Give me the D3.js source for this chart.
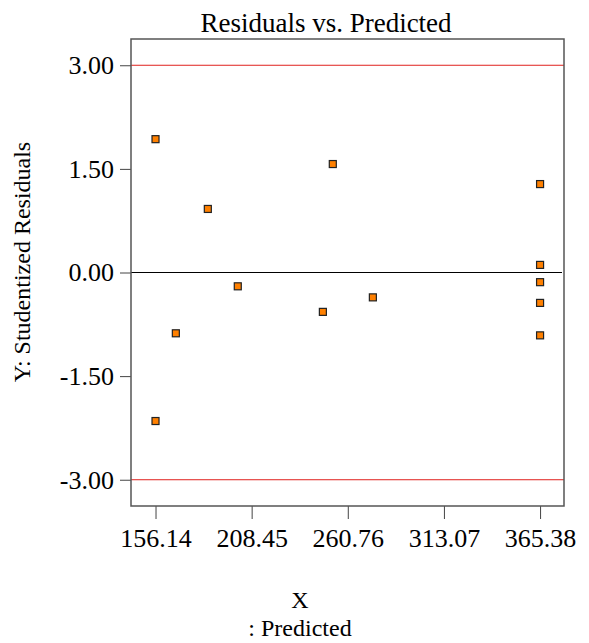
<!DOCTYPE html>
<html>
<head>
<meta charset="utf-8">
<script src="https://cdn.jsdelivr.net/npm/d3@7"></script>
<style>
  body { margin: 0; background: #fff; }
  text { font-family: "Liberation Serif", "Times New Roman", serif; fill: #000; }
</style>
</head>
<body>
<div id="chart"></div>
<script>
// predicted values and studentized residuals
var predicted = [156.14, 156.14, 167.2, 184.6, 200.9, 247.2, 252.6, 274.4, 365.38, 365.38, 365.38, 365.38, 365.38];
var residuals = [1.93, -2.15, -0.88, 0.92, -0.20, -0.57, 1.57, -0.36, 1.28, 0.11, -0.14, -0.44, -0.91];
var xTicks = [156.14, 208.45, 260.76, 313.07, 365.38];
var yTicks = [3, 1.5, 0, -1.5, -3];
var limits = [3, -3];

var W = 589, H = 643;
var margin = {top: 39, right: 25, bottom: 137, left: 131},
    width = W - margin.left - margin.right,
    height = H - margin.top - margin.bottom;

var fmt = d => d.toFixed(2);

var svg = d3.select("#chart")
  .append("svg")
    .attr("width", W)
    .attr("height", H)
  .append("g")
    .attr("transform", "translate(" + margin.left + "," + margin.top + ")");

var x = d3.scaleLinear()
  .domain([142.8, 378.4])
  .range([0, width]);

var y = d3.scaleLinear()
  .domain([-3.38, 3.38])
  .range([height, 0]);

// x axis
var xAxis = svg.append("g")
  .attr("transform", "translate(0," + height + ")")
  .call(d3.axisBottom(x).tickValues(xTicks).tickSize(13).tickPadding(10).tickFormat(fmt));
xAxis.select(".domain").remove();
xAxis.selectAll(".tick line").attr("stroke", "#444");
xAxis.selectAll("text").style("font-size", "26px").style("font-family", "'Liberation Serif', serif");

// y axis
var yAxis = svg.append("g")
  .call(d3.axisLeft(y).tickValues(yTicks).tickSize(11).tickPadding(6).tickFormat(fmt));
yAxis.select(".domain").remove();
yAxis.selectAll(".tick line").attr("stroke", "#444");
yAxis.selectAll("text").style("font-size", "26px").style("font-family", "'Liberation Serif', serif");

// reference lines
svg.selectAll(".limit")
  .data(limits)
  .enter()
  .append("line")
    .attr("x1", 0).attr("x2", width)
    .attr("y1", d => y(d)).attr("y2", d => y(d))
    .attr("stroke", "#e0201c")
    .attr("stroke-width", 1);

svg.append("line")
  .attr("x1", 0).attr("x2", width - 2)
  .attr("y1", y(0)).attr("y2", y(0))
  .attr("stroke", "#000")
  .attr("stroke-width", 1);

// frame
svg.append("rect")
  .attr("width", width)
  .attr("height", height)
  .attr("fill", "none")
  .attr("stroke", "#555")
  .attr("stroke-width", 1.5);

// points
svg.append("g")
  .selectAll("rect")
  .data(predicted)
  .enter()
  .append("rect")
    .attr("x", (d, i) => x(d) - 3.5)
    .attr("y", (d, i) => y(residuals[i]) - 3.5)
    .attr("width", 7)
    .attr("height", 7)
    .attr("fill", "#ff8000")
    .attr("stroke", "#222")
    .attr("stroke-width", 1.2);

// titles
d3.select("svg").append("text")
  .attr("x", 326).attr("y", 32)
  .attr("text-anchor", "middle")
  .style("font-size", "27px")
  .text("Residuals vs. Predicted");

d3.select("svg").append("text")
  .attr("transform", "translate(30,262) rotate(-90)")
  .attr("text-anchor", "middle")
  .style("font-size", "24px")
  .text("Y: Studentized Residuals");

d3.select("svg").append("text")
  .attr("x", 300).attr("y", 608)
  .attr("text-anchor", "middle")
  .style("font-size", "24px")
  .text("X");

d3.select("svg").append("text")
  .attr("x", 300).attr("y", 636)
  .attr("text-anchor", "middle")
  .style("font-size", "24px")
  .text(": Predicted");
</script>
</body>
</html>
